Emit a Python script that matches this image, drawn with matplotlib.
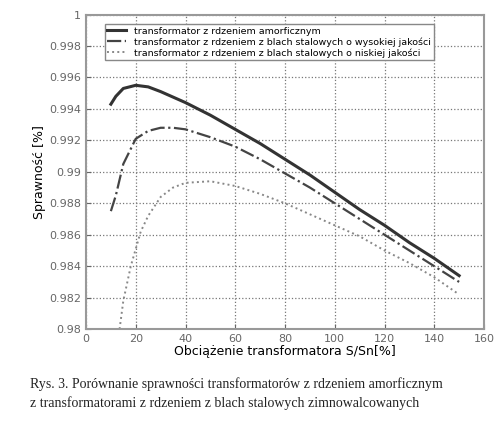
import matplotlib.pyplot as plt

x_amorf = [10, 12, 15, 20, 25, 30, 40, 50, 60, 70, 80, 90, 100, 110, 120, 130, 140, 150]
y_amorf = [0.9943, 0.9948, 0.9953, 0.9955, 0.9954, 0.9951, 0.9944, 0.9936, 0.9927, 0.9918,
           0.9908, 0.9898, 0.9887, 0.9876, 0.9866, 0.9855, 0.9845, 0.9834]

x_high = [10, 12, 15, 20, 25, 30, 35, 40, 50, 60, 70, 80, 90, 100, 110, 120, 130, 140, 150]
y_high = [0.9875, 0.9885, 0.9905, 0.9921, 0.9926, 0.9928, 0.9928, 0.9927, 0.9922, 0.9916,
          0.9908, 0.9899, 0.9890, 0.9880, 0.9870, 0.9860, 0.9850, 0.9840, 0.9830]

x_low = [13.5, 15, 18, 20, 22, 25, 30, 35, 40, 50, 60, 70, 80, 90, 100, 110, 120, 130, 140, 150]
y_low = [0.9800, 0.9818, 0.9840, 0.9851, 0.9862, 0.9872, 0.9884, 0.9890, 0.9893, 0.9894,
         0.9891, 0.9886, 0.9880, 0.9873, 0.9866, 0.9859, 0.9850, 0.9842, 0.9833, 0.9822]

labels = ["transformator z rdzeniem amorficznym",
          "transformator z rdzeniem z blach stalowych o wysokiej jakości",
          "transformator z rdzeniem z blach stalowych o niskiej jakości"]

fig = plt.figure(figsize=(5, 4.4), dpi=100)
ax = fig.add_axes([0.172, 0.252, 0.796, 0.715])

ax.plot(x_amorf, y_amorf, color="#333333", lw=2.2, label=labels[0])
ax.plot(x_high, y_high, color="#444444", lw=1.6, ls="-.", label=labels[1])
ax.plot(x_low, y_low, color="#888888", lw=1.4, ls=":", label=labels[2])

ax.set_xlim(0, 160)
ax.set_ylim(0.98, 1.0)
ax.set_xticks(range(0, 161, 20))
ax.set_yticks([0.98 + 0.002 * i for i in range(11)])
ax.set_yticklabels(["0.98", "0.982", "0.984", "0.986", "0.988", "0.99",
                    "0.992", "0.994", "0.996", "0.998", "1"])
ax.tick_params(labelsize=8, colors="#666666", direction="in")
ax.grid(True, ls=":", color="#777777", lw=0.9)
for s in ax.spines.values():
    s.set_color("#999999")
    s.set_linewidth(1.5)

ax.set_xlabel("Obciążenie transformatora S/Sn[%]", fontsize=9, labelpad=1)
ax.set_ylabel("Sprawność [%]", fontsize=9, labelpad=2)

leg = ax.legend(loc="upper left", bbox_to_anchor=(0.035, 0.985), fontsize=6.8,
                handlelength=2, borderpad=0.3, labelspacing=0.15,
                fancybox=False, framealpha=1)
leg.get_frame().set_edgecolor("#888888")

fig.text(0.06, 0.105, "Rys. 3. Porównanie sprawności transformatorów z rdzeniem amorficznym\n"
         "z transformatorami z rdzeniem z blach stalowych zimnowalcowanych",
         fontsize=10, family="Liberation Serif", color="#222222", va="center",
         linespacing=1.5)

fig.savefig("out.png")
